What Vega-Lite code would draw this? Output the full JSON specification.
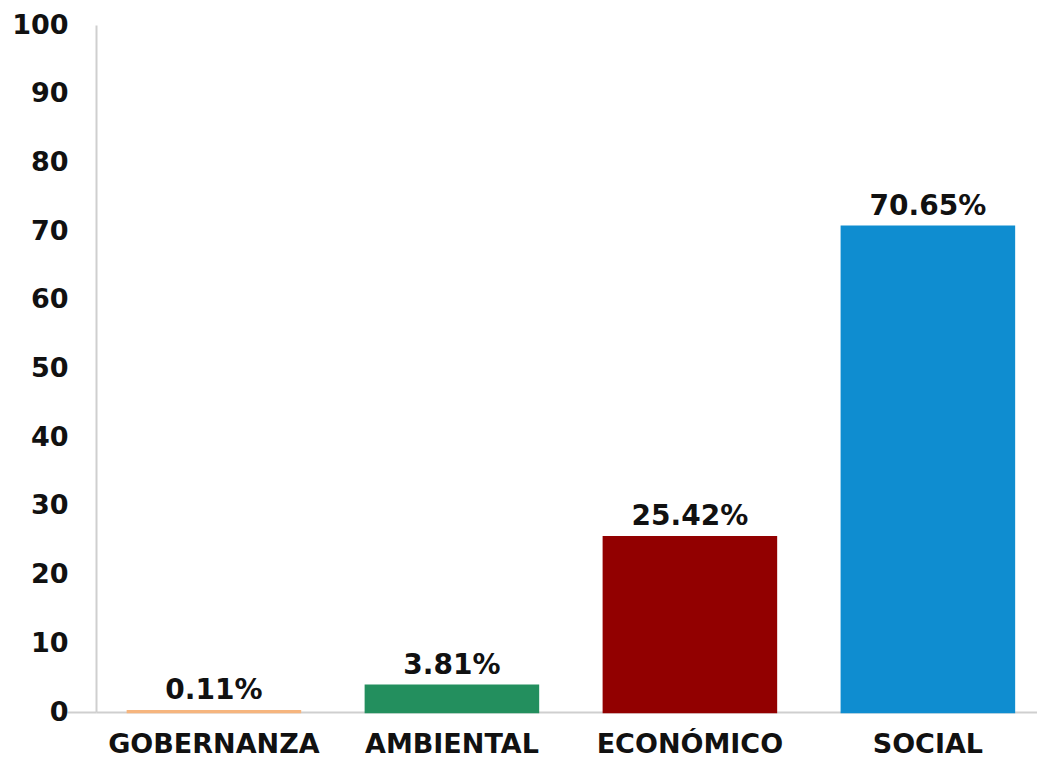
{
  "$schema": "https://vega.github.io/schema/vega-lite/v6.json",
  "autosize": {"type": "none"},
  "padding": {"left": 96, "top": 25, "right": 0, "bottom": 45},
  "width": 941,
  "height": 687,
  "background": "white",
  "config": {"view": {"stroke": null}, "font": "DejaVu Sans"},
  "data": {
    "values": [
      {"dimension": "GOBERNANZA", "value": 0.11, "label": "0.11%"},
      {"dimension": "AMBIENTAL", "value": 3.81, "label": "3.81%"},
      {"dimension": "ECONÓMICO", "value": 25.42, "label": "25.42%"},
      {"dimension": "SOCIAL", "value": 70.65, "label": "70.65%"}
    ]
  },
  "encoding": {
    "x": {
      "field": "dimension",
      "type": "nominal",
      "sort": null,
      "scale": {"paddingInner": 0.277, "paddingOuter": 0.1155, "align": 0.58},
      "axis": {
        "title": null,
        "labelAngle": 0,
        "labelFont": "DejaVu Sans",
        "labelFontWeight": "bold",
        "labelFontSize": 27,
        "labelColor": "#111111",
        "labelPadding": 19,
        "labelLimit": 400,
        "labelOverlap": false,
        "ticks": false,
        "domainColor": "#CFCFCF",
        "domainWidth": 2
      }
    },
    "y": {
      "field": "value",
      "type": "quantitative",
      "scale": {"domain": [0, 100], "nice": false},
      "axis": {
        "title": null,
        "values": [0, 10, 20, 30, 40, 50, 60, 70, 80, 90, 100],
        "grid": false,
        "labelFont": "DejaVu Sans",
        "labelFontWeight": "bold",
        "labelFontSize": 27,
        "labelColor": "#111111",
        "labelPadding": -1,
        "tickSize": 29,
        "tickWidth": 2,
        "tickColor": {"condition": {"test": "datum.value === 0", "value": "#CFCFCF"}, "value": "transparent"},
        "domainColor": "#CFCFCF",
        "domainWidth": 2
      }
    }
  },
  "layer": [
    {
      "mark": {"type": "bar", "strokeWidth": 2.5},
      "encoding": {
        "color": {
          "field": "dimension",
          "type": "nominal",
          "scale": {
            "domain": ["GOBERNANZA", "AMBIENTAL", "ECONÓMICO", "SOCIAL"],
            "range": ["#F6B57E", "#238F5E", "#920000", "#0F8DD0"]
          },
          "legend": null
        },
        "stroke": {
          "field": "dimension",
          "type": "nominal",
          "scale": {
            "domain": ["GOBERNANZA", "AMBIENTAL", "ECONÓMICO", "SOCIAL"],
            "range": ["#F6B57E", "#238F5E", "#920000", "#0F8DD0"]
          },
          "legend": null
        }
      }
    },
    {
      "mark": {
        "type": "text",
        "baseline": "bottom",
        "align": "center",
        "dy": -6,
        "font": "DejaVu Sans",
        "fontWeight": "bold",
        "fontSize": 28,
        "color": "#111111"
      },
      "encoding": {"text": {"field": "label"}}
    }
  ]
}
